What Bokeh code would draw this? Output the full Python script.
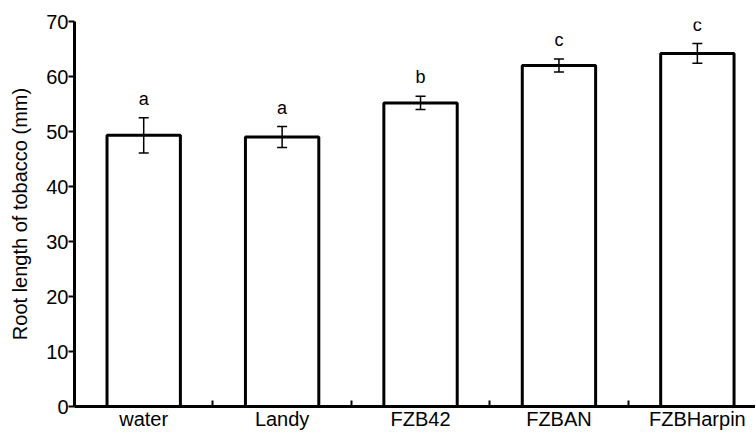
from bokeh.plotting import figure
from bokeh.models import ColumnDataSource, FixedTicker, Whisker, TeeHead, LabelSet, Range1d
from bokeh.core.properties import value
from bokeh.embed import file_html
from bokeh.resources import INLINE

# ---- data ----
categories = ["water", "Landy", "FZB42", "FZBAN", "FZBHarpin"]
root_length = [49.3, 49.0, 55.2, 62.0, 64.2]
std_err = [3.2, 1.9, 1.2, 1.2, 1.8]
letters = ["a", "a", "b", "c", "c"]
y_ticks = [0, 10, 20, 30, 40, 50, 60, 70]

FONT = "Liberation Sans"

xs = [i + 0.5 for i in range(len(categories))]
src = ColumnDataSource(dict(
    x=xs,
    top=root_length,
    upper=[m + e for m, e in zip(root_length, std_err)],
    lower=[m - e for m, e in zip(root_length, std_err)],
    letter=letters,
))

p = figure(width=755, height=432, output_backend="svg", toolbar_location=None,
           x_range=Range1d(0, 4.92), y_range=Range1d(0, 70),
           min_border_left=74, min_border_right=0, min_border_top=21,
           min_border_bottom=10)
p.outline_line_color = None
p.xgrid.visible = False
p.ygrid.visible = False
p.background_fill_color = "white"
p.border_fill_color = "white"

p.vbar(x="x", top="top", width=0.53, bottom=0, source=src,
       fill_color="white", line_color="black", line_width=3)

w = Whisker(base="x", upper="upper", lower="lower", source=src, level="overlay",
            line_color="black", line_width=1.5,
            upper_head=TeeHead(size=10, line_color="black", line_width=1.5),
            lower_head=TeeHead(size=10, line_color="black", line_width=1.5))
p.add_layout(w)

labels = LabelSet(x="x", y="upper", text="letter", source=src,
                  text_align="center", text_baseline="bottom", y_offset=9,
                  text_font=value(FONT), text_font_size=value("18px"),
                  text_color="black")
p.add_layout(labels)

# y axis
ya = p.yaxis[0]
ya.ticker = FixedTicker(ticks=y_ticks, minor_ticks=[])
ya.axis_label = "Root length of tobacco (mm)"
ya.axis_label_text_font = FONT
ya.axis_label_text_font_style = "normal"
ya.axis_label_text_font_size = "20px"
ya.axis_label_text_color = "black"
ya.axis_label_standoff = 12
ya.major_label_text_font = FONT
ya.major_label_text_font_size = "20px"
ya.major_label_text_color = "black"
ya.major_label_standoff = 0
ya.axis_line_width = 3
ya.axis_line_color = "black"
ya.major_tick_out = 6
ya.major_tick_in = 0
ya.major_tick_line_width = 2
ya.minor_tick_line_color = None

# x axis
xa = p.xaxis[0]
xa.ticker = FixedTicker(ticks=xs, minor_ticks=[1, 2, 3, 4])
xa.major_label_overrides = {x: c for x, c in zip(xs, categories)}
xa.major_label_text_font = FONT
xa.major_label_text_font_size = "20px"
xa.major_label_text_color = "black"
xa.major_label_standoff = 1
xa.axis_line_width = 3
xa.axis_line_color = "black"
xa.major_tick_out = 0
xa.major_tick_in = 0
xa.minor_tick_in = 6
xa.minor_tick_out = 0
xa.minor_tick_line_width = 2
xa.minor_tick_line_color = "black"

open("out.html", "w").write(file_html(p, INLINE))
